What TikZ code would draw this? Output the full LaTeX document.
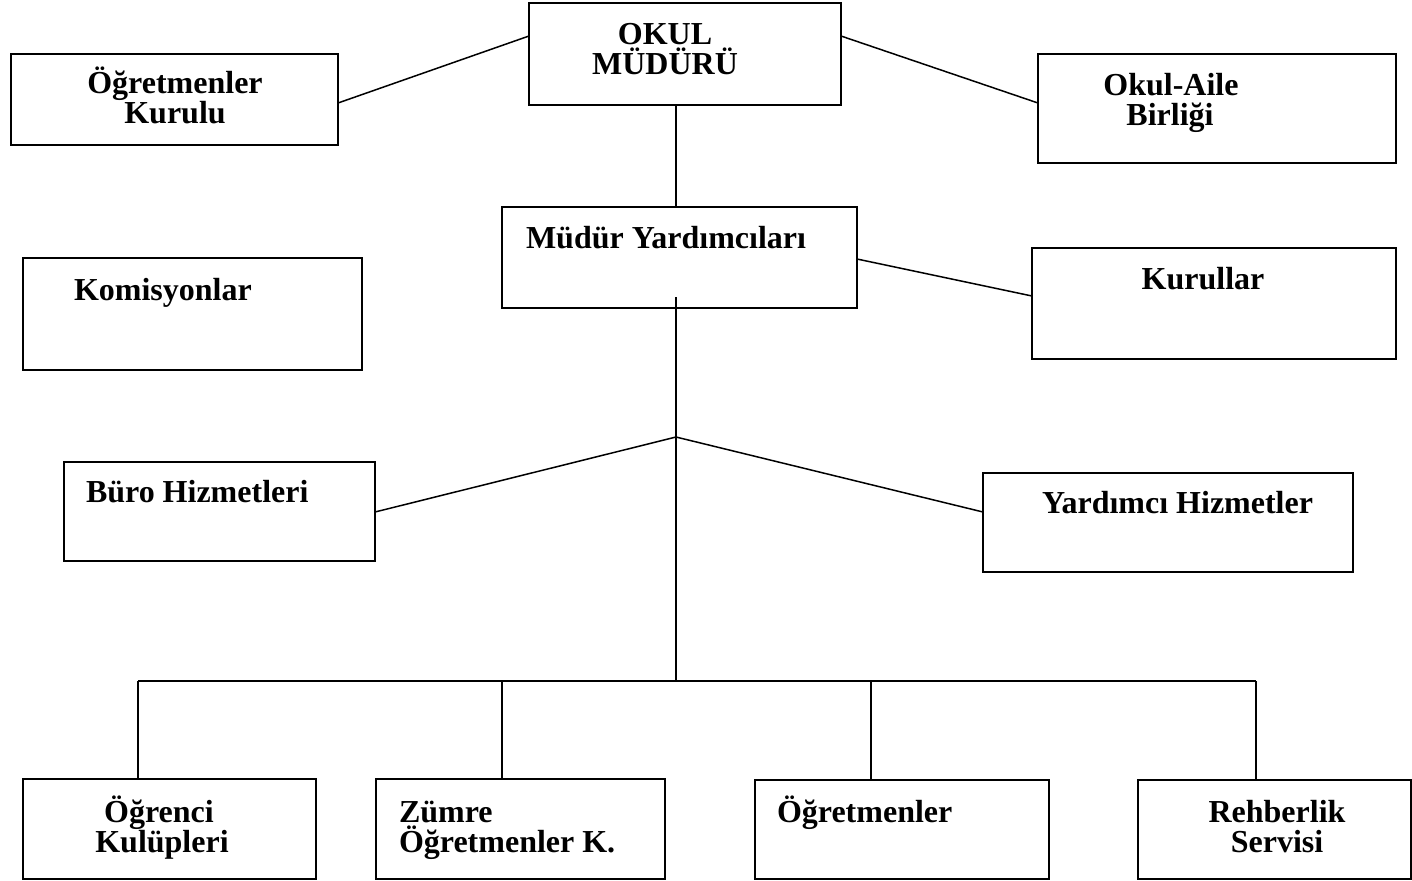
\documentclass[tikz,border=0pt]{standalone}
\usepackage{fontspec}
\setmainfont{Liberation Serif}
\begin{document}
\begin{tikzpicture}[x=0.5pt,y=-0.5pt,
  box/.style={draw, line width=0.9pt, inner sep=0pt, outer sep=0pt},
  lbl/.style={inner sep=0pt, outer sep=0pt, font=\fontsize{16}{15}\selectfont\bfseries},
  conn/.style={line width=0.75pt}]
\useasboundingbox (0,0) rectangle (1412,880);
% boxes
\node[box, minimum width=156pt, minimum height=51pt] (okul) at (685,54) {};
\node[box, minimum width=163.5pt, minimum height=45.5pt] (ogk) at (174.5,99.5) {};
\node[box, minimum width=179pt, minimum height=54.5pt] (oab) at (1217,108.5) {};
\node[box, minimum width=177.5pt, minimum height=50.5pt] (my) at (679.5,257.5) {};
\node[box, minimum width=169.5pt, minimum height=56pt] (kom) at (192.5,314) {};
\node[box, minimum width=182pt, minimum height=55.5pt] (kur) at (1214,303.5) {};
\node[box, minimum width=155.5pt, minimum height=49.5pt] (buro) at (219.5,511.5) {};
\node[box, minimum width=185pt, minimum height=49.5pt] (yh) at (1168,522.5) {};
\node[box, minimum width=146.5pt, minimum height=50pt] (ok) at (169.5,829) {};
\node[box, minimum width=144.5pt, minimum height=50pt] (zum) at (520.5,829) {};
\node[box, minimum width=147pt, minimum height=49.5pt] (ogr) at (902,829.5) {};
\node[box, minimum width=136.5pt, minimum height=49.5pt] (reh) at (1274.5,829.5) {};
% labels
\node[lbl, anchor=base] at (665,44) {OKUL};
\node[lbl, anchor=base] at (665,74) {MÜDÜRÜ};
\node[lbl, anchor=base] at (175,93) {Öğretmenler};
\node[lbl, anchor=base] at (175,123) {Kurulu};
\node[lbl, anchor=base] at (1171,95) {Okul-Aile};
\node[lbl, anchor=base] at (1170,125) {Birliği};
\node[lbl, anchor=base west] at (526,248) {Müdür Yardımcıları};
\node[lbl, anchor=base west] at (74,300) {Komisyonlar};
\node[lbl, anchor=base] at (1203,289) {Kurullar};
\node[lbl, anchor=base west] at (86,502) {Büro Hizmetleri};
\node[lbl, anchor=base west] at (1042,513) {Yardımcı Hizmetler};
\node[lbl, anchor=base] at (159,822) {Öğrenci};
\node[lbl, anchor=base] at (162,852) {Kulüpleri};
\node[lbl, anchor=base west] at (399,822) {Zümre};
\node[lbl, anchor=base west] at (399,852) {Öğretmenler K.};
\node[lbl, anchor=base west] at (777,822) {Öğretmenler};
\node[lbl, anchor=base] at (1277,822) {Rehberlik};
\node[lbl, anchor=base] at (1277,852) {Servisi};
% coordinates
\coordinate (vtop) at (676,297);
\coordinate (hub) at (676,437);
\coordinate (barmid) at (676,681);
\coordinate (barL) at (138,681);
\coordinate (barB) at (502,681);
\coordinate (barC) at (871,681);
\coordinate (barR) at (1256,681);
% connectors
\draw[conn] (ogk.east |- 0,103) -- (okul.west |- 0,36);
\draw[conn] (okul.east |- 0,36) -- (oab.west |- 0,103);
\draw[conn] (okul.south -| 676,0) -- (my.north -| 676,0);
\draw[conn] (my.east |- 0,259) -- (kur.west |- 0,296);
\draw[conn] (vtop) -- (hub) -- (barmid);
\draw[conn] (hub) -- (buro.east |- 0,512);
\draw[conn] (hub) -- (yh.west |- 0,512);
\draw[conn] (barL) -- (barR);
\draw[conn] (barL) -- (ok.north -| barL);
\draw[conn] (barB) -- (zum.north -| barB);
\draw[conn] (barC) -- (ogr.north -| barC);
\draw[conn] (barR) -- (reh.north -| barR);
\end{tikzpicture}
\end{document}
